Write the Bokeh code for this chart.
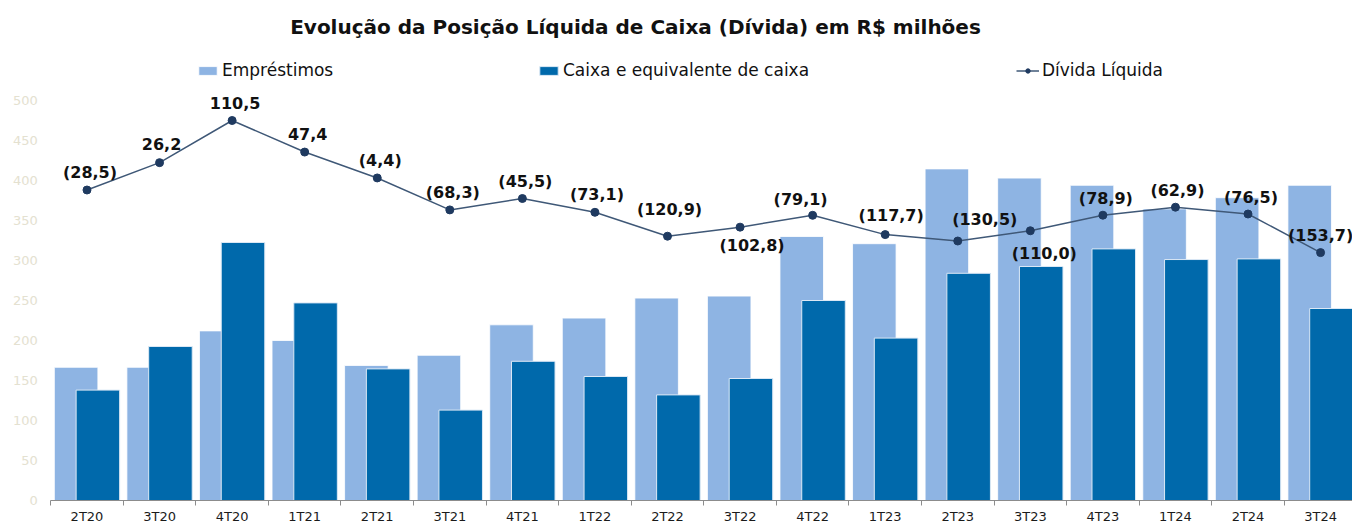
from bokeh.plotting import figure
from bokeh.models import (Range1d, FixedTicker, Legend, LegendItem, Label,
                          ColumnDataSource)
from bokeh.embed import file_html
from bokeh.resources import INLINE
from bokeh.core.properties import value

# ---------------- data ----------------
categories = ["2T20", "3T20", "4T20", "1T21", "2T21", "3T21", "4T21", "1T22", "2T22",
              "3T22", "4T22", "1T23", "2T23", "3T23", "4T23", "1T24", "2T24", "3T24"]
emprestimos = [166.5, 166.5, 212.0, 200.0, 168.8, 181.5, 219.6, 228.0, 253.0,
               255.5, 330.0, 321.0, 414.5, 403.0, 394.0, 364.5, 378.5, 394.0]
caixa = [138.0, 192.5, 322.5, 247.0, 164.5, 113.0, 174.0, 155.0, 132.0,
         152.5, 250.0, 203.0, 284.0, 292.5, 314.5, 301.2, 302.0, 240.0]
divida_liquida = [-28.5, 26.2, 110.5, 47.4, -4.4, -68.3, -45.5, -73.1, -120.9,
                  -102.8, -79.1, -117.7, -130.5, -110.0, -78.9, -62.9, -76.5, -153.7]
y_ticks = [0, 50, 100, 150, 200, 250, 300, 350, 400, 450, 500]

# label placement (screen px offsets, layout only)
label_dx = [3, 2, 3, 3, 3, 3, 3, 2, 2, 12, -12, 6, 27, 14, 3, 2, 3, 0]
label_dy = [-18, -19, -18, -18, -17, -17, -17, -18, -27, 18, -16, -19, -22, 23, -17, -17, -17, -17]

TITLE = "Evolução da Posição Líquida de Caixa (Dívida) em R$ milhões"
FONT = "DejaVu Sans"
LIGHT = "#8eb4e3"
DARK = "#0069ab"
LINE = "#3f5877"
MARK = "#1f3a60"

n = len(categories)
centers = [i + 0.5 for i in range(n)]


def fmt(v):
    s = f"{abs(v):.1f}".replace(".", ",")
    return f"({s})" if v < 0 else s


W, H = 1352, 523
p = figure(width=W, height=H,
           x_range=Range1d(-0.692, 17.94), y_range=Range1d(-28.75, 625),
           min_border=0, min_border_left=0, min_border_right=0,
           min_border_top=0, min_border_bottom=0,
           output_backend="svg", toolbar_location=None)
p.outline_line_color = None
p.xgrid.visible = False
p.ygrid.visible = False
p.background_fill_color = "white"
p.border_fill_color = "white"
p.extra_y_ranges = {"line": Range1d(-695.5, 350.5)}

src = ColumnDataSource(dict(
    xl=[c - 0.15 for c in centers], xd=[c + 0.15 for c in centers],
    emp=emprestimos, cx=caixa))

r_emp = p.vbar(x="xl", top="emp", width=0.6, bottom=0, source=src,
               fill_color=LIGHT, line_color="#ffffff", line_alpha=0.8, line_width=1)
r_cx = p.vbar(x="xd", top="cx", width=0.6, bottom=0, source=src,
              fill_color=DARK, line_color="#dbe8f5", line_width=1)

lsrc = ColumnDataSource(dict(x=centers, y=divida_liquida,
                             label=[fmt(v) for v in divida_liquida],
                             dx=label_dx, dy=label_dy))
r_line = p.line(x="x", y="y", source=lsrc, y_range_name="line",
                line_color=LINE, line_width=1.5)
r_pts = p.scatter(x="x", y="y", source=lsrc, y_range_name="line",
                  size=8, marker="circle", fill_color=MARK, line_color=MARK)
p.text(x="x", y="y", text="label", x_offset="dx", y_offset="dy", source=lsrc,
       y_range_name="line", text_font=value(FONT), text_font_style="bold",
       text_font_size="16px", text_align="center", text_baseline="middle",
       text_color="#111111")

# axes (drawn at fixed data locations inside the frame)
xa = p.xaxis[0]
xa.fixed_location = 0
xa.bounds = (0, n)
xa.ticker = FixedTicker(ticks=centers, minor_ticks=list(range(n + 1)))
xa.major_label_overrides = {c: cat for c, cat in zip(centers, categories)}
xa.major_tick_line_color = None
xa.major_tick_out = 0
xa.major_tick_in = 0
xa.minor_tick_line_color = "#8c8c8c"
xa.minor_tick_out = 5
xa.minor_tick_in = 0
xa.axis_line_color = "#8c8c8c"
xa.major_label_standoff = 3
xa.major_label_text_font = FONT
xa.major_label_text_font_size = "13px"
xa.major_label_text_color = "#1a1a1a"

ya = p.yaxis[0]
ya.fixed_location = 0
ya.bounds = (0, 500)
ya.ticker = FixedTicker(ticks=y_ticks, minor_ticks=[])
ya.axis_line_color = None
ya.major_tick_line_color = None
ya.major_tick_out = 0
ya.major_tick_in = 0
ya.minor_tick_line_color = None
ya.major_label_standoff = 13
ya.major_label_text_font = FONT
ya.major_label_text_font_size = "13px"
ya.major_label_text_color = "#e4e1d0"

# title
p.add_layout(Label(x=635, y=H - 26, x_units="screen", y_units="screen", text=TITLE,
                   text_align="center", text_baseline="middle",
                   text_font=FONT, text_font_style="bold", text_font_size="20px",
                   text_color="#111111"))

# legends
def mk_legend(label, renderers, vx):
    lg = Legend(items=[LegendItem(label=label, renderers=renderers)],
                location=(vx, H - 80), orientation="horizontal",
                border_line_color=None, background_fill_alpha=0,
                padding=0, margin=0, spacing=0, label_standoff=3,
                glyph_width=23, glyph_height=11,
                label_text_font=FONT, label_text_font_size="17px",
                label_text_color="#111111")
    p.add_layout(lg, "center")

mk_legend("Empréstimos", [r_emp], 196)
mk_legend("Caixa e equivalente de caixa", [r_cx], 537)
mk_legend("Dívida Líquida", [r_line, r_pts], 1016)

open("out.html", "w").write(file_html(p, INLINE))
